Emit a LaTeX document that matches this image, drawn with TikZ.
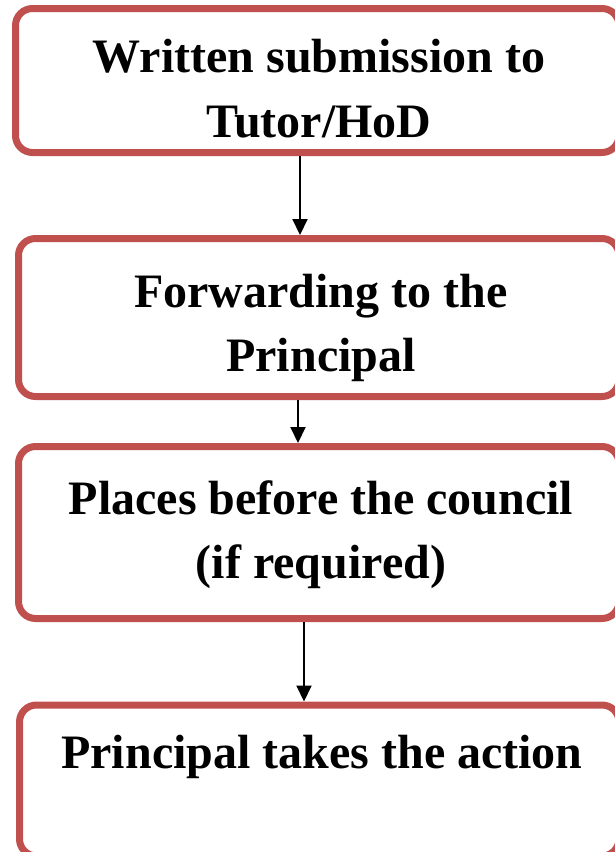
\documentclass[tikz,border=0pt]{standalone}
\usepackage{fontspec}
\setmainfont{Liberation Serif}
\usetikzlibrary{arrows.meta}
\definecolor{boxred}{HTML}{C0504D}
\begin{document}
\begin{tikzpicture}[x=1pt,y=-1pt,
  stepbox/.style={draw=boxred, line width=7pt, rounded corners=17pt, inner sep=0pt},
  label/.style={anchor=base, inner sep=0pt, font=\fontsize{48}{63}\selectfont\bfseries},
  flow/.style={line width=2pt, -{Triangle[length=16pt,width=15pt]}}]
  \useasboundingbox (0,0) rectangle (615,852);
  \clip (0,0) rectangle (615,852);

  % boxes, given by their outline centres and sizes
  \node[stepbox] (b1) at (317.25,80.5)  [minimum width=603.5pt, minimum height=144pt] {};
  \node[stepbox] (b2) at (318.75,317.5) [minimum width=600.5pt, minimum height=158pt] {};
  \node[stepbox] (b3) at (318.75,532.5) [minimum width=600.5pt, minimum height=172pt] {};
  \node[stepbox] (b4) at (319.25,780.5) [minimum width=599.5pt, minimum height=151pt] {};

  % box texts, one node per line
  \node[label] (t1a) at (319,72)  {Written submission to};
  \node[label] (t1b) at (319,137) {Tutor/HoD};
  \node[label] (t2a) at (321,307) {Forwarding to the};
  \node[label] (t2b) at (321,371) {Principal};
  \node[label] (t3a) at (321,514) {Places before the council};
  \node[label] (t3b) at (321,578) {(if required)};
  \node[label] (t4a) at (322,768) {Principal takes the action};

  % connectors
  \coordinate (x1) at (300,0);
  \coordinate (x2) at (298,0);
  \coordinate (x3) at (304,0);
  \draw[flow] (b1.south -| x1) -- (b2.north -| x1);
  \draw[flow] (b2.south -| x2) -- (b3.north -| x2);
  \draw[flow] (b3.south -| x3) -- (b4.north -| x3);
\end{tikzpicture}
\end{document}
